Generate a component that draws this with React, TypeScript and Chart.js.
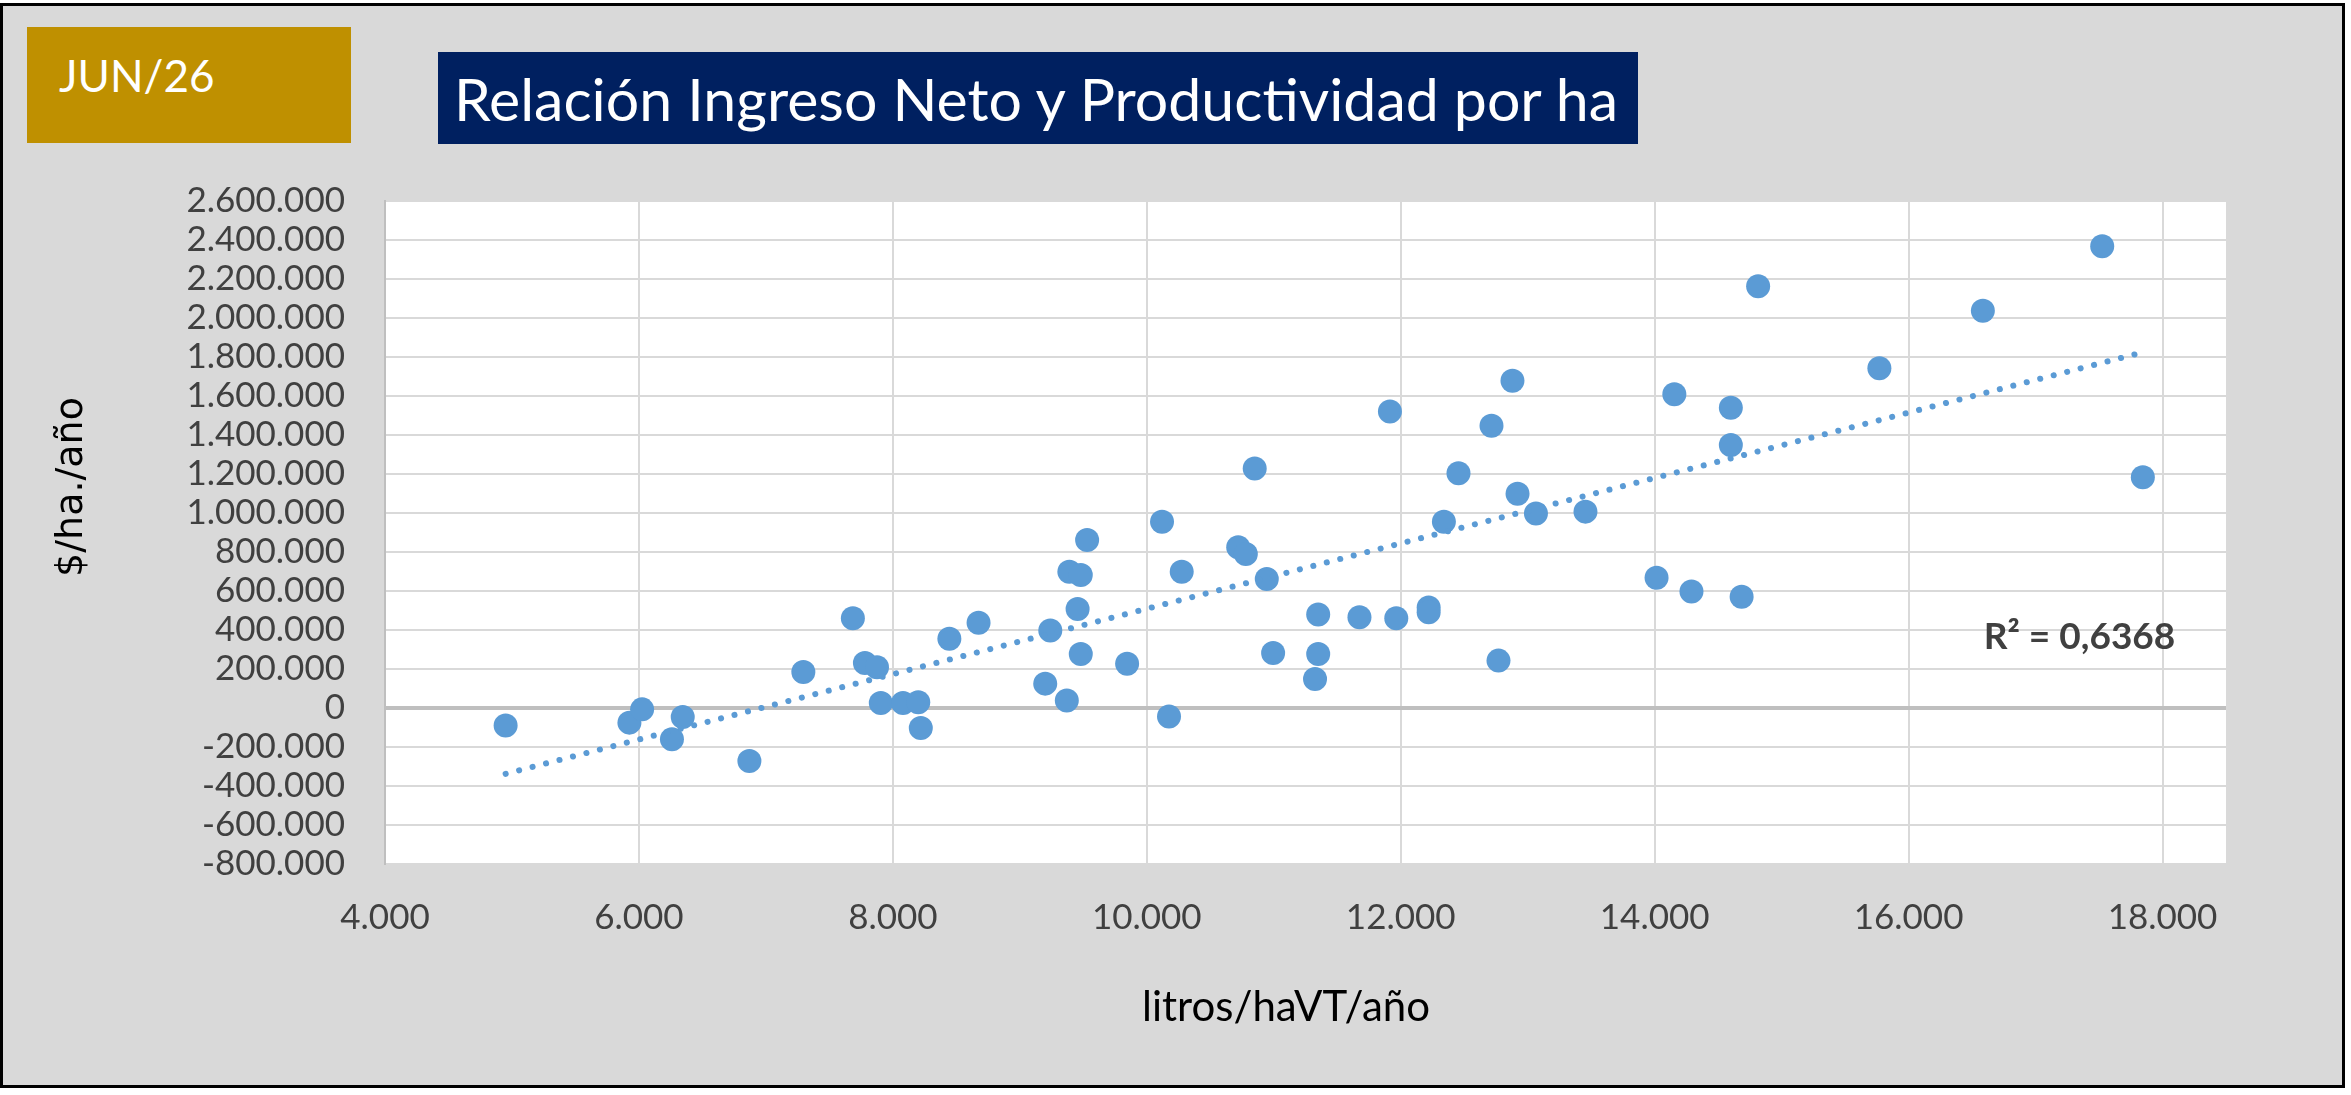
import React, { useEffect, useRef } from 'react';
import { Chart, registerables } from 'chart.js';

Chart.register(...registerables);

// litros/haVT/año (x) and $/ha./año (y) for each farm
const litros = [
  4950, 5925, 6025, 6345, 6260, 6870, 7295, 7685, 7780, 7875,
  7905, 8080, 8200, 8220, 8445, 8675, 9200, 9240, 9370, 9390,
  9480, 9530, 9455, 9480, 9845, 10120, 10175, 10275, 10720, 10780,
  10850, 10945, 10995, 11350, 11350, 11325, 11675, 11915, 11965, 12220,
  12220, 12340, 12455, 12715, 12770, 12880, 12920, 13065, 13455, 14015,
  14155, 14290, 14600, 14600, 14685, 14815, 15770, 16585, 17525, 17845,
];
const ingreso = [
  -90000, -75000, -7000, -46000, -160000, -272000, 185000, 460000, 231000, 209000,
  26000, 26000, 29000, -103000, 355000, 437000, 125000, 397000, 38000, 699000,
  682000, 862000, 508000, 277000, 227000, 955000, -44000, 699000, 824000, 790000,
  1228000, 662000, 282000, 479000, 277000, 149000, 465000, 1521000, 460000, 516000,
  491000, 955000, 1204000, 1448000, 243000, 1678000, 1099000, 998000, 1007000, 668000,
  1609000, 597000, 1540000, 1349000, 571000, 2163000, 1742000, 2037000, 2368000, 1183000,
];

const xAxisRange = [4000, 18500];
const xTickValues = [4000, 6000, 8000, 10000, 12000, 14000, 16000, 18000];
const yAxisRange = [-800000, 2600000];
const yTickValues = [
  -800000, -600000, -400000, -200000, 0, 200000, 400000, 600000, 800000,
  1000000, 1200000, 1400000, 1600000, 1800000, 2000000, 2200000, 2400000, 2600000,
];

const dateLabel = 'JUN/26';
const titleText = 'Relación Ingreso Neto y Productividad por ha';
const xTitle = 'litros/haVT/año';
const yTitle = '$/ha./año';
const r2Text = 'R² = 0,6368';
const r2Anchor = [17346, 364000];

const fmt = (v: number) => String(Math.round(v)).replace(/\B(?=(\d{3})+(?!\d))/g, '.');

function regression(xs: number[], ys: number[]) {
  const n = xs.length;
  const mx = xs.reduce((a, b) => a + b, 0) / n;
  const my = ys.reduce((a, b) => a + b, 0) / n;
  let sxy = 0;
  let sxx = 0;
  for (let i = 0; i < n; i++) {
    sxy += (xs[i] - mx) * (ys[i] - my);
    sxx += (xs[i] - mx) * (xs[i] - mx);
  }
  const slope = sxy / sxx;
  return { slope, intercept: my - slope * mx };
}

export default function App() {
  const canvasRef = useRef<HTMLCanvasElement | null>(null);

  useEffect(() => {
    document.body.style.margin = '0';
    const canvas = canvasRef.current;
    if (!canvas) return;

    const points = litros.map((x, i) => ({ x, y: ingreso[i] }));
    const { slope, intercept } = regression(litros, ingreso);
    const xMinData = Math.min(...litros);
    const xMaxData = Math.max(...litros);
    const trend = [
      { x: xMinData, y: intercept + slope * xMinData },
      { x: xMaxData, y: intercept + slope * xMaxData },
    ];

    const plotBg = {
      id: 'plotBg',
      beforeDraw(chart: any) {
        const { ctx, chartArea } = chart;
        ctx.save();
        ctx.fillStyle = '#ffffff';
        ctx.fillRect(chartArea.left, chartArea.top, chartArea.right - chartArea.left, chartArea.bottom - chartArea.top);
        ctx.restore();
      },
    };

    const texts = {
      id: 'texts',
      afterDraw(chart: any) {
        const { ctx, scales } = chart;
        ctx.save();
        ctx.translate(72, 487);
        ctx.rotate(-Math.PI / 2);
        ctx.font = '38px "DejaVu Sans"';
        ctx.fillStyle = '#000000';
        ctx.textAlign = 'center';
        ctx.textBaseline = 'middle';
        ctx.fillText(yTitle, 0, 0);
        ctx.restore();

        ctx.save();
        ctx.font = '42px Lato';
        ctx.fillStyle = '#000000';
        ctx.textAlign = 'center';
        ctx.textBaseline = 'middle';
        ctx.fillText(xTitle, 1286, 1007);
        ctx.restore();

        ctx.save();
        ctx.font = 'bold 37px Lato';
        ctx.fillStyle = '#404040';
        ctx.textAlign = 'center';
        ctx.textBaseline = 'middle';
        ctx.fillText(r2Text, scales.x.getPixelForValue(r2Anchor[0]), scales.y.getPixelForValue(r2Anchor[1]));
        ctx.restore();
      },
    };

    const chart = new Chart(canvas, {
      type: 'scatter',
      data: {
        datasets: [
          {
            label: 'Tendencia',
            data: trend,
            showLine: true,
            pointRadius: 0,
            borderColor: '#5b9bd5',
            borderWidth: 6,
            borderDash: [0.1, 13.8],
            borderCapStyle: 'round',
            order: 0,
          } as any,
          {
            label: 'Ingreso neto',
            data: points,
            pointRadius: 12,
            pointHoverRadius: 12,
            backgroundColor: '#5b9bd5',
            borderWidth: 0,
            order: 1,
          },
        ],
      },
      options: {
        animation: false,
        responsive: false,
        devicePixelRatio: 1,
        events: [],
        layout: { padding: { top: 201, right: 125, bottom: 0, left: 0 } },
        plugins: { legend: { display: false }, tooltip: { enabled: false }, title: { display: false } },
        scales: {
          x: {
            type: 'linear',
            min: xAxisRange[0],
            max: xAxisRange[1],
            afterBuildTicks: (s: any) => { s.ticks = xTickValues.map((value) => ({ value })); },
            afterFit: (s: any) => { s.height = 231; },
            ticks: {
              autoSkip: false,
              maxRotation: 0,
              padding: 33,
              color: '#404040',
              font: { family: 'Lato', size: 35 },
              callback: (v: any) => fmt(Number(v)),
            },
            grid: { color: '#d9d9d9', lineWidth: 2, drawTicks: false },
            border: { display: false },
          },
          y: {
            type: 'linear',
            min: yAxisRange[0],
            max: yAxisRange[1],
            afterBuildTicks: (s: any) => { s.ticks = yTickValues.map((value) => ({ value })); },
            afterFit: (s: any) => { s.width = 385; },
            ticks: {
              autoSkip: false,
              padding: 40,
              color: '#404040',
              font: { family: 'Lato', size: 35 },
              callback: (v: any) => fmt(Number(v)),
            },
            grid: {
              drawTicks: false,
              color: (c: any) => (c.tick && c.tick.value === 0 ? '#bfbfbf' : '#d9d9d9'),
              lineWidth: (c: any) => (c.tick && c.tick.value === 0 ? 4 : 2),
            },
            border: { display: true, color: '#bfbfbf', width: 2 },
          },
        },
      },
      plugins: [plotBg, texts],
    });

    return () => chart.destroy();
  }, []);

  return (
    <div style={{ position: 'relative', width: 2351, height: 1095, background: '#ffffff', overflow: 'hidden', fontFamily: 'Lato' }}>
      <div
        style={{
          position: 'absolute', left: 0, top: 3, width: 2345, height: 1085, boxSizing: 'border-box',
          border: '3px solid #000000', background: '#d9d9d9',
        }}
      />
      <div style={{ position: 'absolute', left: 27, top: 27, width: 324, height: 116, background: '#bf9000' }}>
        <div style={{ position: 'absolute', left: 32, top: 26, fontSize: 44, lineHeight: '44px', color: '#ffffff', whiteSpace: 'nowrap' }}>
          {dateLabel}
        </div>
      </div>
      <div style={{ position: 'absolute', left: 438, top: 52, width: 1200, height: 92, background: '#002060' }}>
        <div style={{ position: 'absolute', left: 16, top: 17, fontSize: 59, lineHeight: '59px', color: '#ffffff', whiteSpace: 'nowrap' }}>
          {titleText}
        </div>
      </div>
      <canvas ref={canvasRef} width={2351} height={1095} style={{ position: 'absolute', left: 0, top: 0, width: 2351, height: 1095 }} />
    </div>
  );
}
